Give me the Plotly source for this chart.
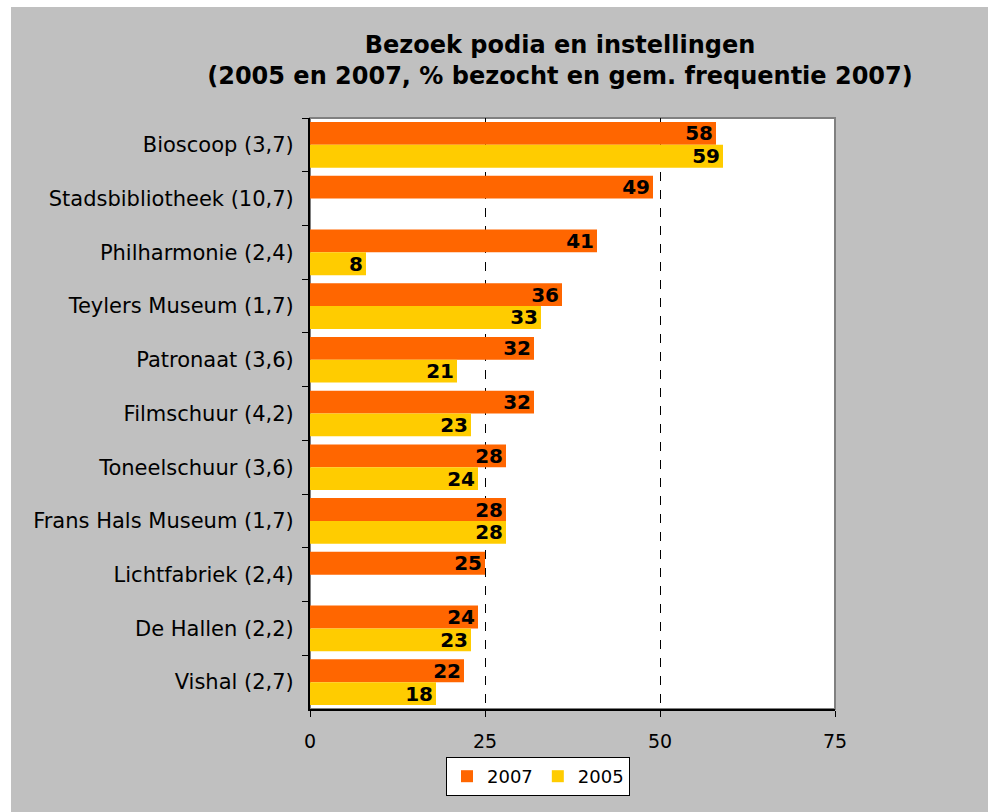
import plotly.graph_objects as go

categories = ["Bioscoop (3,7)", "Stadsbibliotheek (10,7)", "Philharmonie (2,4)",
              "Teylers Museum (1,7)", "Patronaat (3,6)", "Filmschuur (4,2)",
              "Toneelschuur (3,6)", "Frans Hals Museum (1,7)", "Lichtfabriek (2,4)",
              "De Hallen (2,2)", "Vishal (2,7)"]
values_2007 = [58, 49, 41, 36, 32, 32, 28, 28, 25, 24, 22]
values_2005 = [59, None, 8, 33, 21, 23, 24, 28, None, 23, 18]
x_ticks = [0, 25, 50, 75]

FONT = "DejaVu Sans"

def labels(vals):
    return ["" if v is None else str(v) for v in vals]

def bar(vals, name, color):
    return go.Bar(
        y=categories, x=vals, name=name, orientation="h",
        marker=dict(color=color, line=dict(width=0)),
        text=labels(vals), textposition="inside", insidetextanchor="end",
        textangle=0,
        textfont=dict(family=FONT, size=20, color="black", weight="bold"),
        constraintext="none", cliponaxis=False,
    )

fig = go.Figure()
fig.add_trace(bar(values_2007, "2007", "#FF6600"))
fig.add_trace(bar(values_2005, "2005", "#FFCC00"))

fig.update_layout(
    width=988, height=812,
    paper_bgcolor="#C0C0C0", plot_bgcolor="white",
    margin=dict(l=299, r=164, t=111, b=110),
    barmode="group", bargap=0.15, bargroupgap=0,
    font=dict(family=FONT, size=20, color="black"),
    title=dict(
        text="<b>Bezoek podia en instellingen<br>(2005 en 2007, % bezocht en gem. frequentie 2007)</b>",
        x=549 / 988, xanchor="center", y=1 - 46 / 812, yanchor="top",
        font=dict(family=FONT, size=24, color="black"),
    ),
    xaxis=dict(
        range=[0, 75], tickvals=x_ticks, ticktext=[str(t) for t in x_ticks],
        showgrid=True, gridcolor="black", griddash="dash", gridwidth=1,
        showline=True, linecolor="black", linewidth=2,
        ticks="outside", ticklen=6, tickcolor="black",
        zeroline=False, tickfont=dict(size=19), ticklabelstandoff=8,
    ),
    yaxis=dict(
        autorange="reversed", type="category",
        showline=True, linecolor="black", linewidth=2,
        ticks="outside", ticklen=6, tickcolor="black", tickson="boundaries",
        showgrid=False, tickfont=dict(size=21), ticklabelstandoff=10,
    ),
    legend=dict(
        orientation="h", x=(538 - 310) / 525, xanchor="center", y=-48 / 591, yanchor="top",
        bgcolor="white", bordercolor="black", borderwidth=1,
        font=dict(family=FONT, size=18), itemwidth=30, tracegroupgap=0,
    ),
    shapes=[dict(type="rect", xref="paper", yref="paper", x0=0, x1=1, y0=0, y1=1,
                 line=dict(color="#808080", width=2), layer="below")],
)

fig.write_html(
    "out.html",
    post_script="document.body.style.margin='7px 0 0 11px';document.body.style.overflow='hidden';",
)
